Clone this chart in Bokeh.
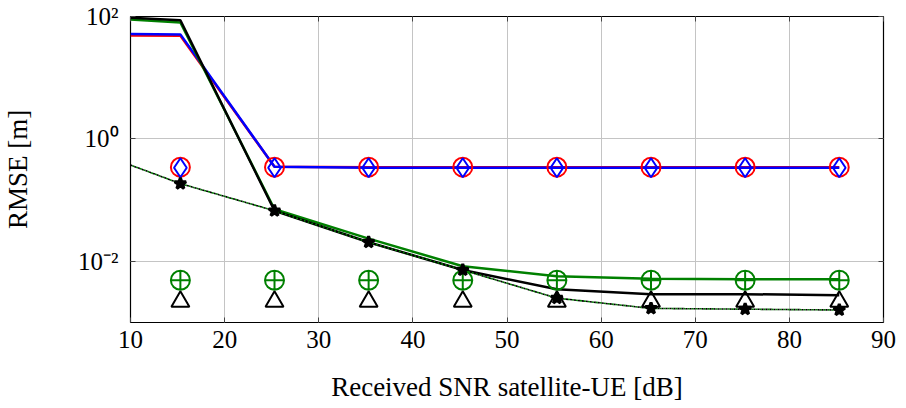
from bokeh.plotting import figure
from bokeh.models import FixedTicker, LinearAxis, LogAxis, Range1d
from bokeh.embed import file_html
from bokeh.resources import INLINE

# SNR grid (dB): curves start at 10 dB, markers at the simulated points
snr_line = [10, 15.3, 25.3, 35.3, 45.3, 55.3, 65.3, 75.3, 85.3]
snr_mark = [15.3, 25.3, 35.3, 45.3, 55.3, 65.3, 75.3, 85.3]

# RMSE curves [m]
rmse_red = [49, 48.5, 0.35, 0.345, 0.345, 0.345, 0.345, 0.345, 0.345]
rmse_blue = [52, 51, 0.35, 0.338, 0.338, 0.338, 0.338, 0.338, 0.338]
rmse_green = [89, 80, 0.071, 0.0235, 0.0083, 0.0057, 0.0052, 0.0051, 0.0051]
rmse_black = [95, 87, 0.067, 0.0205, 0.0072, 0.0035, 0.0029, 0.0029, 0.0028]
rmse_dotted = [0.374, 0.186, 0.067, 0.0205, 0.0072, 0.0025, 0.0017, 0.00165, 0.0016]

# bound markers [m]
bound_red = [0.345] * 8
bound_blue = [0.338] * 8
bound_green = [0.0049] * 8
bound_black = [0.0022] * 8
bound_star = rmse_dotted[1:]

x_ticks = [10, 20, 30, 40, 50, 60, 70, 80, 90]
y_ticks = [1e-2, 1e0, 1e2]
y_tick_labels = ["10\u207b\u00b2", "10\u2070", "10\u00b2"]

FONT = "Liberation Serif"
RED, BLUE, GREEN, BLACK = "#ff0000", "#0000ff", "#008000", "#000000"

p = figure(width=906, height=408, output_backend="svg", toolbar_location=None,
           y_axis_type="log", x_range=Range1d(10, 90), y_range=Range1d(1e-3, 1e2),
           min_border_left=130, min_border_right=23, min_border_top=16,
           min_border_bottom=86)
p.outline_line_color = "black"
p.outline_line_width = 1.2
p.background_fill_color = "white"
p.border_fill_color = "white"

# axes
p.xaxis.ticker = FixedTicker(ticks=x_ticks)
p.yaxis.ticker = FixedTicker(ticks=y_ticks, minor_ticks=[])
p.xgrid.ticker = FixedTicker(ticks=x_ticks)
p.ygrid.ticker = FixedTicker(ticks=y_ticks, minor_ticks=[])
for g in (p.xgrid, p.ygrid):
    g.grid_line_color = "#c4c4c4"
    g.grid_line_width = 1

for ax in (p.xaxis, p.yaxis):
    ax.axis_line_color = None
    ax.major_tick_in = 5
    ax.major_tick_out = 0
    ax.minor_tick_in = 0
    ax.minor_tick_out = 0
    ax.major_tick_line_color = "#444444"
    ax.axis_label_text_font = FONT
    ax.axis_label_text_font_style = "normal"
    ax.axis_label_text_font_size = "27px"
    ax.axis_label_text_color = "black"
    ax.major_label_text_font = FONT
    ax.major_label_text_font_size = "25px"
    ax.major_label_text_color = "black"

p.xaxis.axis_label = "Received SNR satellite-UE [dB]"
p.xaxis.major_label_standoff = 8
p.xaxis.axis_label_standoff = 21
p.yaxis.axis_label = "RMSE [m]"
p.yaxis.major_label_standoff = 12
p.yaxis.axis_label_standoff = 42
p.yaxis.major_label_overrides = {t: s for t, s in zip(y_ticks, y_tick_labels)}

top = LinearAxis(ticker=FixedTicker(ticks=x_ticks), major_label_text_alpha=0,
                 major_label_text_font_size="1px", axis_line_color=None,
                 major_tick_in=5, major_tick_out=0, major_tick_line_color="#444444",
                 minor_tick_in=0, minor_tick_out=0)
right = LogAxis(ticker=FixedTicker(ticks=y_ticks, minor_ticks=[]),
                major_label_text_alpha=0, major_label_text_font_size="1px",
                axis_line_color=None, major_tick_in=5, major_tick_out=0,
                major_tick_line_color="#444444", minor_tick_in=0, minor_tick_out=0)
p.add_layout(top, "above")
p.add_layout(right, "right")

# curves
p.line(snr_line, rmse_red, line_color=RED, line_width=2.5)
p.line(snr_line, rmse_blue, line_color=BLUE, line_width=2.5)
p.line(snr_line, rmse_green, line_color=GREEN, line_width=2.5)
p.line(snr_line, rmse_black, line_color=BLACK, line_width=2.5)
p.line(snr_line, rmse_dotted, line_color=GREEN, line_width=1.6, line_dash="2 2",
       line_dash_offset=2)
p.line(snr_line, rmse_dotted, line_color=BLACK, line_width=1.6, line_dash="2 2")

# markers
p.scatter(snr_mark, bound_red, marker="circle", size=19, fill_color=None,
          line_color=RED, line_width=2)
p.scatter(snr_mark, bound_blue, marker="diamond", size=19, fill_color=None,
          line_color=BLUE, line_width=2)
p.scatter(snr_mark, bound_green, marker="circle_cross", size=19, fill_color=None,
          line_color=GREEN, line_width=2)
p.scatter(snr_mark, bound_black, marker="triangle", size=18, fill_color=None,
          line_color=BLACK, line_width=2)
p.scatter(snr_mark, bound_star, marker="star", size=12, fill_color=BLACK,
          line_color=BLACK, line_width=3)

open("out.html", "w").write(file_html(p, INLINE))
